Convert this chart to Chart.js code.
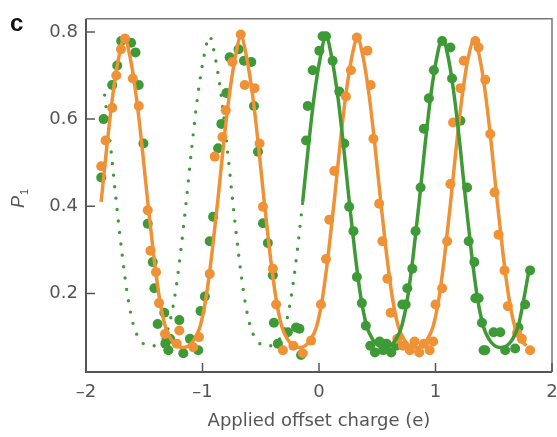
<!DOCTYPE html>
<html>
<head>
<meta charset="utf-8">
<script src="https://cdn.jsdelivr.net/npm/chart.js@4.4.1/dist/chart.umd.min.js"></script>
<style>
  html, body { margin: 0; padding: 0; background: #ffffff; }
  #wrap { width: 557px; height: 437px; position: relative; }
</style>
</head>
<body>
<div id="wrap"><canvas id="c" width="557" height="437"></canvas></div>
<script>
// ---- Data ----
const xTicks = [-2, -1, 0, 1, 2];
const xTickLabels = ['\u20132', '\u20131', '0', '1', '2'];
const yTicks = [0.2, 0.4, 0.6, 0.8];
const yTickLabels = ['0.2', '0.4', '0.6', '0.8'];

// Orange measured points
const orangeX = [-1.869,-1.832,-1.775,-1.74,-1.70,-1.665,-1.598,-1.547,-1.47,-1.447,-1.399,-1.373,-1.322,-1.222,-1.199,-1.08,-1.03,-0.938,-0.895,-0.829,-0.80,-0.744,-0.672,-0.638,-0.553,-0.510,-0.481,-0.396,-0.368,-0.310,-0.22,-0.139,-0.068,0.017,0.060,0.088,0.131,0.231,0.274,0.325,0.416,0.444,0.467,0.516,0.544,0.587,0.615,0.672,0.72,0.78,0.82,0.86,0.90,0.95,0.98,1.0,1.057,1.10,1.128,1.151,1.214,1.242,1.342,1.370,1.427,1.470,1.507,1.541,1.592,1.621,1.70,1.741,1.812];
const orangeY = [0.492,0.551,0.626,0.70,0.76,0.785,0.693,0.630,0.391,0.298,0.249,0.178,0.107,0.085,0.115,0.077,0.10,0.245,0.514,0.559,0.62,0.731,0.794,0.678,0.671,0.544,0.399,0.257,0.175,0.070,0.08,0.063,0.092,0.175,0.279,0.369,0.481,0.652,0.712,0.787,0.757,0.678,0.555,0.406,0.320,0.234,0.156,0.096,0.08,0.07,0.09,0.065,0.085,0.07,0.09,0.175,0.212,0.320,0.451,0.592,0.671,0.734,0.779,0.764,0.690,0.566,0.432,0.335,0.253,0.171,0.11,0.096,0.070];

// Green measured points
const greenX = [-1.869,-1.849,-1.775,-1.732,-1.698,-1.613,-1.575,-1.547,-1.507,-1.47,-1.427,-1.413,-1.385,-1.328,-1.319,-1.279,-1.293,-1.199,-1.165,-1.108,-1.037,-1.017,-0.980,-0.938,-0.909,-0.866,-0.838,-0.795,-0.767,-0.690,-0.644,-0.581,-0.558,-0.524,-0.481,-0.439,-0.396,-0.387,-0.353,-0.268,-0.197,-0.168,-0.154,-0.111,-0.097,-0.054,0.003,0.031,0.060,0.117,0.174,0.217,0.259,0.296,0.325,0.368,0.402,0.44,0.48,0.52,0.55,0.58,0.62,0.66,0.715,0.744,0.758,0.801,0.829,0.872,0.900,0.943,0.986,1.057,1.128,1.142,1.214,1.271,1.285,1.333,1.342,1.370,1.399,1.413,1.427,1.498,1.556,1.598,1.684,1.712,1.769,1.812];
const greenY = [0.466,0.600,0.678,0.723,0.779,0.775,0.753,0.678,0.544,0.36,0.272,0.212,0.13,0.156,0.085,0.096,0.07,0.139,0.063,0.096,0.07,0.160,0.193,0.320,0.376,0.533,0.589,0.660,0.742,0.760,0.734,0.731,0.630,0.525,0.361,0.316,0.242,0.133,0.085,0.111,0.122,0.119,0.059,0.551,0.630,0.712,0.757,0.790,0.790,0.734,0.663,0.544,0.399,0.343,0.238,0.178,0.126,0.08,0.065,0.09,0.07,0.085,0.065,0.08,0.175,0.175,0.212,0.257,0.343,0.443,0.578,0.648,0.712,0.779,0.764,0.693,0.596,0.443,0.320,0.272,0.189,0.189,0.133,0.07,0.07,0.111,0.111,0.07,0.074,0.122,0.175,0.253];

// Orange fitted curve (solid)
const orangeFitX = [-1.87,-1.82,-1.77,-1.72,-1.67,-1.62,-1.57,-1.52,-1.47,-1.42,-1.37,-1.32,-1.27,-1.22,-1.17,-1.12,-1.07,-1.02,-0.97,-0.92,-0.87,-0.82,-0.77,-0.72,-0.67,-0.62,-0.57,-0.52,-0.47,-0.42,-0.37,-0.32,-0.27,-0.22,-0.17,-0.12,-0.07,-0.02,0.03,0.08,0.13,0.18,0.23,0.28,0.33,0.38,0.43,0.48,0.53,0.58,0.63,0.68,0.73,0.78,0.83,0.88,0.93,0.98,1.03,1.08,1.13,1.18,1.23,1.28,1.33,1.38,1.43,1.48,1.53,1.58,1.63,1.68,1.73,1.78];
const orangeFitY = [0.41,0.54,0.655,0.74,0.785,0.74,0.655,0.54,0.41,0.29,0.19,0.125,0.095,0.08,0.076,0.08,0.095,0.125,0.19,0.29,0.41,0.54,0.655,0.74,0.79,0.74,0.655,0.54,0.41,0.29,0.19,0.125,0.095,0.08,0.076,0.08,0.095,0.125,0.19,0.29,0.41,0.54,0.655,0.74,0.785,0.74,0.655,0.54,0.41,0.29,0.19,0.125,0.095,0.08,0.076,0.08,0.095,0.125,0.19,0.29,0.41,0.54,0.655,0.74,0.78,0.74,0.655,0.54,0.41,0.29,0.19,0.125,0.095,0.08];

// Green fitted curve (solid part)
const greenFitX = [-0.14,-0.09,-0.04,0.01,0.06,0.11,0.16,0.21,0.26,0.31,0.36,0.41,0.46,0.51,0.56,0.61,0.66,0.71,0.76,0.81,0.86,0.91,0.96,1.01,1.06,1.11,1.16,1.21,1.26,1.31,1.36,1.41,1.46,1.51,1.56,1.61,1.66,1.71,1.76,1.80];
const greenFitY = [0.41,0.54,0.655,0.74,0.79,0.74,0.655,0.54,0.41,0.29,0.19,0.125,0.095,0.08,0.076,0.08,0.095,0.125,0.19,0.29,0.41,0.54,0.655,0.74,0.785,0.74,0.655,0.54,0.41,0.29,0.19,0.125,0.095,0.08,0.076,0.08,0.095,0.125,0.19,0.25];

// Green fitted curve continued (dotted part)
const greenDotX = [-1.84,-1.79,-1.74,-1.69,-1.64,-1.59,-1.54,-1.49,-1.44,-1.39,-1.34,-1.29,-1.24,-1.19,-1.14,-1.09,-1.04,-0.99,-0.94,-0.89,-0.84,-0.79,-0.74,-0.69,-0.64,-0.59,-0.54,-0.49,-0.44,-0.39,-0.34,-0.29,-0.24,-0.19,-0.14];
const greenDotY = [0.655,0.54,0.41,0.29,0.19,0.125,0.095,0.082,0.08,0.082,0.095,0.125,0.19,0.29,0.41,0.54,0.655,0.74,0.79,0.74,0.655,0.54,0.41,0.29,0.19,0.125,0.095,0.082,0.08,0.082,0.095,0.125,0.19,0.29,0.41];

const pts = (xs, ys) => xs.map((x, i) => ({x: x, y: ys[i]}));

const ORANGE = '#EF9135';
const GREEN = '#3E9A36';
const AXIS = '#555555';

const decor = {
  id: 'decor',
  afterDraw(chart) {
    const ctx = chart.ctx;
    const a = chart.chartArea;
    const xs = chart.scales.x, ys = chart.scales.y;
    ctx.save();
    // frame
    ctx.strokeStyle = '#777777';
    ctx.lineWidth = 1.5;
    ctx.beginPath();
    ctx.moveTo(a.left, a.top); ctx.lineTo(a.right, a.top); ctx.lineTo(a.right, a.bottom);
    ctx.stroke();
    ctx.strokeStyle = AXIS;
    ctx.lineWidth = 2;
    ctx.beginPath();
    ctx.moveTo(a.left, a.top); ctx.lineTo(a.left, a.bottom); ctx.lineTo(a.right, a.bottom);
    ctx.stroke();
    // inward ticks
    ctx.lineWidth = 1.5;
    ctx.beginPath();
    xTicks.forEach(v => {
      const p = xs.getPixelForValue(v);
      if (p >= a.left - 1 && p <= a.right + 1) { ctx.moveTo(p, a.bottom); ctx.lineTo(p, a.bottom - 9); }
    });
    yTicks.forEach(v => {
      const p = ys.getPixelForValue(v);
      ctx.moveTo(a.left, p); ctx.lineTo(a.left + 9, p);
    });
    ctx.stroke();
    // panel letter
    ctx.fillStyle = '#111111';
    ctx.font = 'bold 24px "Liberation Sans", Arial, sans-serif';
    ctx.textBaseline = 'alphabetic';
    ctx.textAlign = 'left';
    ctx.fillText('c', 10, 31);
    // y axis title P1 (rotated)
    ctx.fillStyle = AXIS;
    ctx.translate(24, 208);
    ctx.rotate(-Math.PI / 2);
    ctx.font = 'italic 18px "Liberation Sans", Arial, sans-serif';
    ctx.fillText('P', 0, 0);
    const w = ctx.measureText('P').width;
    ctx.font = '11px "Liberation Sans", Arial, sans-serif';
    ctx.fillText('1', w + 1, 4);
    ctx.restore();
  }
};

new Chart(document.getElementById('c'), {
  type: 'scatter',
  data: {
    datasets: [
      { label: 'green fit', data: pts(greenFitX, greenFitY), showLine: true, borderColor: GREEN, borderWidth: 3.5,
        pointRadius: 0, cubicInterpolationMode: 'monotone', order: 1 },
      { label: 'orange fit', data: pts(orangeFitX, orangeFitY), showLine: true, borderColor: ORANGE, borderWidth: 3.5,
        pointRadius: 0, cubicInterpolationMode: 'monotone', order: 2 },
      { label: 'orange data', data: pts(orangeX, orangeY), backgroundColor: ORANGE, borderWidth: 0,
        pointRadius: 5, order: 3 },
      { label: 'green data', data: pts(greenX, greenY), backgroundColor: GREEN, borderWidth: 0,
        pointRadius: 5, order: 4 },
      { label: 'green fit (continued)', data: pts(greenDotX, greenDotY), showLine: true, borderColor: GREEN,
        borderWidth: 3.4, borderDash: [0, 11.5], borderCapStyle: 'round', pointRadius: 0,
        cubicInterpolationMode: 'monotone', order: 5 }
    ]
  },
  options: {
    responsive: false,
    animation: false,
    events: [],
    layout: { padding: { top: 10, right: 0, left: 0, bottom: 0 } },
    plugins: { legend: { display: false }, tooltip: { enabled: false }, title: { display: false } },
    scales: {
      x: {
        type: 'linear', min: -2, max: 2,
        afterBuildTicks: s => { s.ticks = xTicks.map(v => ({ value: v })); },
        afterFit: s => { s.height = 65; s.paddingRight = 4; s.paddingLeft = 0; },
        grid: { display: false, drawTicks: false },
        border: { display: false },
        ticks: {
          padding: 10, color: AXIS, maxRotation: 0, autoSkip: false,
          font: { family: '"DejaVu Sans", sans-serif', size: 18 },
          callback: (v) => { const i = xTicks.indexOf(v); return i >= 0 ? xTickLabels[i] : ''; }
        },
        title: {
          display: true, text: 'Applied offset charge (e)', color: AXIS,
          font: { family: '"DejaVu Sans", sans-serif', size: 18 },
          padding: { top: 0, bottom: 5 }
        }
      },
      y: {
        type: 'linear', min: 0.02, max: 0.83,
        afterBuildTicks: s => { s.ticks = yTicks.map(v => ({ value: v })); },
        afterFit: s => { s.width = 86; },
        grid: { display: false, drawTicks: false },
        border: { display: false },
        ticks: {
          padding: 8, color: AXIS, autoSkip: false,
          font: { family: '"DejaVu Sans", sans-serif', size: 18 },
          callback: (v) => { const i = yTicks.indexOf(v); return i >= 0 ? yTickLabels[i] : ''; }
        }
      }
    }
  },
  plugins: [decor]
});
</script>
</body>
</html>
